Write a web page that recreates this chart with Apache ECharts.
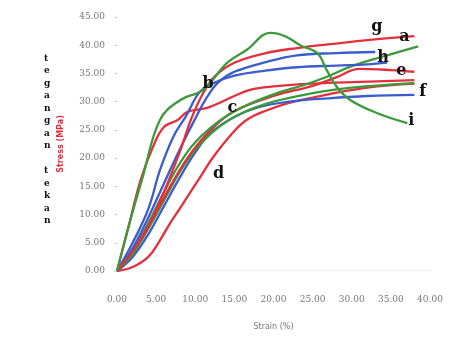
<!DOCTYPE html>
<html>
<head>
<meta charset="utf-8">
<script src="https://cdn.jsdelivr.net/npm/echarts@6/dist/echarts.min.js"></script>
<style>
  html, body { margin: 0; padding: 0; background: #fff; }
  #chart { width: 451px; height: 342px; }
</style>
</head>
<body>
<div id="chart"></div>
<script>
// strain (%) / stress (MPa) pairs
const curveA = [[0,0],[2,3.5],[4,8],[6,14],[8,21],[9.5,27],[11,31.5],[12.5,34.5],[15,36.9],[19,38.6],[23,39.5],[28,40.3],[32,40.9],[38,41.6]];
const curveB = [[0,0],[2,5],[4,11],[5.5,17.9],[7.2,23.8],[8.8,27.4],[10.5,31.6],[12,33.1],[15,34.6],[19,35.5],[23,36.1],[28,36.4],[32,36.6],[34.5,36.9]];
const curveC = [[0,0],[1.5,8],[3,16],[4.6,22],[6,25.5],[7.8,26.8],[9,28.2],[11.5,28.9],[15,31],[17,32.1],[20,32.7],[25,33.2],[31,33.5],[38,33.8]];
const curveD = [[0,0],[2,0.7],[4,2.5],[5.3,5],[6.8,8.5],[8,11],[9.3,13.8],[10.8,17],[12.3,20.2],[14.8,24.5],[16.6,26.8],[19,28.4],[22,29.8],[27,31.3],[32,32.5],[38,33.2]];
const curveE = [[0,0],[3,5.5],[6,13],[9,20],[12,25],[15,28.3],[20,31],[25,32.8],[28,34.3],[31,35.8],[35,35.6],[38,35.3]];
const curveF = [[0,0],[2,2.5],[4,6.5],[6,11.5],[8,16.5],[10,21],[12,24.5],[15,27.3],[18,29],[22,30],[27,30.6],[32,31],[38,31.2]];
const curveG = [[0,0],[2,3.5],[4,8.5],[6,14],[8,19],[10,22.8],[13,26.5],[16,29],[20,31.3],[24,33],[27,34.5],[30,36.3],[34,38],[38.5,39.8]];
const curveH = [[0,0],[2,4],[4,9.5],[6,15.5],[8,21.5],[10,27],[11.5,30.8],[13,33.5],[15,35.3],[19,37],[23,38.2],[28,38.6],[33,38.8]];
const curveI = [[0,0],[1.7,9],[3.3,16.7],[5.5,26.8],[8.1,30.3],[11,32.1],[14.1,36.9],[16.6,39.2],[19.6,42.2],[21.5,41.6],[23.4,40],[25.6,38.6],[26.8,35.6],[28.1,32.6],[29.8,30.3],[33.2,28],[37.1,26.2]];
const curveJ = [[0,0],[2,3],[4,7.5],[6,12.5],[8,17.5],[10,21.5],[13,25.5],[16,28],[20,30],[25,31.5],[30,32.5],[38,33.3]];

const xTicks = [0, 5, 10, 15, 20, 25, 30, 35, 40];
const yTicks = [0, 5, 10, 15, 20, 25, 30, 35, 40, 45];

const RED = "#e4303c";
const GREEN = "#3b9a3a";
const BLUE = "#3b5ccc";

const labelFont = {
  color: "#111",
  fontFamily: "DejaVu Serif",
  fontWeight: "bold",
  fontSize: 16
};

// name: curve letter; endOffset: label at line end; mid: [point index, offset] for a label inside the curve
function line(name, data, color, endOffset, mid) {
  const s = {
    name: name,
    type: "line",
    smooth: 0.4,
    symbol: "none",
    data: data,
    lineStyle: { color: color, width: 2.3 },
    endLabel: endOffset ? Object.assign({ show: true, formatter: name, offset: endOffset }, labelFont) : { show: false },
    z: 3
  };
  if (mid) {
    s.markPoint = {
      symbol: "circle",
      symbolSize: 1,
      itemStyle: { color: "rgba(0,0,0,0)" },
      label: Object.assign({ show: true, position: "inside", formatter: name, offset: mid[1] }, labelFont),
      data: [{ coord: data[mid[0]] }]
    };
  }
  return s;
}

const chart = echarts.init(document.getElementById("chart"));
chart.setOption({
  animation: false,
  grid: { left: 117, right: 21, top: 17, bottom: 71 },
  xAxis: {
    type: "value",
    min: 0, max: 40, interval: 5,
    axisLine: { show: false },
    axisTick: { show: false },
    splitLine: { show: false },
    axisLabel: {
      margin: 24,
      color: "#777",
      fontSize: 9,
      fontFamily: "DejaVu Serif",
      formatter: v => xTicks.includes(v) ? v.toFixed(2) : ""
    },
    name: "Strain (%)",
    nameLocation: "middle",
    nameGap: 52,
    nameTextStyle: { color: "#777", fontSize: 8, fontFamily: "DejaVu Sans" }
  },
  yAxis: {
    type: "value",
    min: 0, max: 45, interval: 5,
    axisLine: { show: false },
    axisTick: { show: true, length: 3, inside: false, lineStyle: { color: "#ccc" } },
    splitLine: { show: false },
    axisLabel: {
      margin: 12,
      color: "#777",
      fontSize: 9,
      fontFamily: "DejaVu Serif",
      formatter: v => yTicks.includes(v) ? v.toFixed(2) : ""
    },
    name: "Stress (MPa)",
    nameLocation: "middle",
    nameGap: 52,
    nameRotate: 90,
    nameTextStyle: { color: RED, fontSize: 8, fontWeight: "bold", fontFamily: "DejaVu Sans" }
  },
  graphic: [{
    type: "text",
    left: 44,
    top: 52,
    style: {
      text: "tegangan tekan".split("").join("\n"),
      fill: "#111",
      font: "bold 9px 'DejaVu Serif'",
      lineHeight: 12.5,
      align: "center"
    }
  }],
  series: [
    {
      type: "line",
      symbol: "none",
      data: [[3, 0], [40.5, 0]],
      lineStyle: { color: "#b9c6dd", width: 1, type: "dotted" },
      z: 1,
      silent: true
    },
    line("d", curveD, RED, null, [7, [17, -1]]),
    line("f", curveF, BLUE, [-3, -3]),
    line("", curveJ, GREEN, null),
    line("e", curveE, RED, [-26, -1]),
    line("c", curveC, RED, null, [8, [-2, 12]]),
    line("g", curveG, GREEN, [-55, -20]),
    line("h", curveH, BLUE, [-6, 6]),
    line("b", curveB, BLUE, null, [6, [9, -9]]),
    line("a", curveA, RED, [-23, 1]),
    line("i", curveI, GREEN, [-7, -2])
  ]
});
</script>
</body>
</html>
